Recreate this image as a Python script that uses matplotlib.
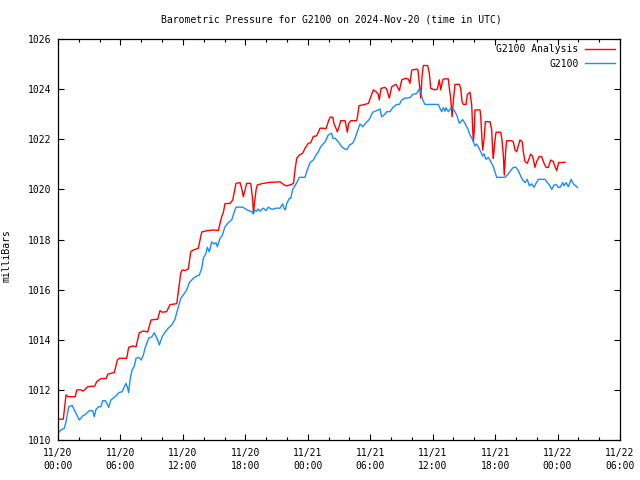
import matplotlib
matplotlib.use('Agg')
import matplotlib.pyplot as plt
import matplotlib.dates as mdates
import pandas as pd

# hours after 2024-11-20 00:00 UTC and pressure in millibars
analysis_hours = [0.0, 0.51, 0.77, 0.96, 1.66, 1.80, 2.24, 2.40, 2.88, 3.53, 3.72, 4.13, 4.61, 4.80,
                  5.41, 5.70, 5.89, 6.60, 6.79, 7.18, 7.50, 7.81, 8.20, 8.62, 8.94, 9.58, 9.80, 9.99,
                  10.44, 10.76, 11.41, 11.79, 11.91, 12.20, 12.52, 12.75, 13.00, 13.48, 13.81, 14.29,
                  14.92, 15.40, 15.73, 15.88, 16.05, 16.53, 16.79, 16.91, 17.10, 17.49, 17.65, 17.81,
                  17.97, 18.13, 18.52, 18.71, 18.77, 19.03, 19.15, 19.73, 20.37, 21.33, 21.81, 21.98,
                  22.46, 22.63, 22.77, 22.94, 23.19, 23.51, 23.73, 24.05, 24.28, 24.53, 24.86, 25.18,
                  25.49, 25.75, 25.97, 26.14, 26.40, 26.52, 26.84, 27.03, 27.16, 27.58, 27.67, 27.80,
                  27.93, 28.13, 28.70, 28.80, 28.92, 29.50, 29.82, 30.14, 30.30, 30.56, 30.78, 30.87,
                  31.04, 31.42, 31.58, 31.83, 32.07, 32.48, 32.80, 33.03, 33.34, 33.66, 33.82, 33.99,
                  34.47, 34.59, 34.72, 34.85, 34.98, 35.10, 35.52, 35.68, 35.81, 36.23, 36.45, 36.64,
                  36.77, 36.97, 37.09, 37.50, 37.60, 37.73, 37.86, 38.00, 38.15, 38.56, 38.70, 38.82,
                  38.95, 39.20, 39.33, 39.59, 39.75, 39.85, 39.91, 40.00, 40.07, 40.55, 40.62, 40.74,
                  40.81, 40.93, 41.06, 41.51, 41.67, 41.77, 41.83, 41.99, 42.09, 42.54, 42.66, 42.79,
                  42.88, 43.02, 43.11, 43.60, 43.75, 43.91, 44.08, 44.23, 44.39, 44.61, 44.71, 44.87,
                  45.09, 45.19, 45.42, 45.61, 45.83, 45.99, 46.24, 46.47, 46.70, 46.89, 47.11, 47.34,
                  47.59, 47.76, 47.92, 48.11, 48.72]
analysis_mbar = [1010.83, 1010.83, 1011.80, 1011.73, 1011.73, 1012.00, 1012.00, 1011.95, 1012.13,
                 1012.15, 1012.33, 1012.45, 1012.45, 1012.63, 1012.69, 1013.19, 1013.26, 1013.26,
                 1013.70, 1013.75, 1013.72, 1014.28, 1014.35, 1014.31, 1014.79, 1014.82, 1015.16,
                 1015.10, 1015.12, 1015.40, 1015.44, 1016.65, 1016.78, 1016.76, 1016.82, 1017.51,
                 1017.58, 1017.65, 1018.30, 1018.35, 1018.38, 1018.36, 1018.91, 1019.07, 1019.43,
                 1019.44, 1019.58, 1019.84, 1020.24, 1020.27, 1020.04, 1019.71, 1019.98, 1020.24,
                 1020.24, 1019.58, 1019.05, 1019.98, 1020.18, 1020.24, 1020.28, 1020.30, 1020.16,
                 1020.14, 1020.20, 1020.25, 1020.77, 1021.24, 1021.37, 1021.44, 1021.64, 1021.84,
                 1021.86, 1022.11, 1022.14, 1022.44, 1022.44, 1022.42, 1022.70, 1022.88, 1022.88,
                 1022.63, 1022.30, 1022.53, 1022.74, 1022.74, 1022.57, 1022.28, 1022.63, 1022.74,
                 1022.74, 1022.97, 1023.34, 1023.39, 1023.43, 1023.79, 1023.97, 1023.90, 1023.79,
                 1023.57, 1024.03, 1024.07, 1024.00, 1023.64, 1024.10, 1024.19, 1023.94, 1024.37,
                 1024.43, 1024.40, 1024.23, 1024.76, 1024.80, 1024.76, 1024.23, 1023.64, 1024.50,
                 1024.94, 1024.94, 1024.63, 1024.03, 1023.97, 1024.00, 1024.37, 1023.97, 1024.37,
                 1024.41, 1024.41, 1024.03, 1023.64, 1022.90, 1023.60, 1024.19, 1024.19, 1024.03,
                 1023.50, 1023.39, 1023.39, 1023.79, 1023.87, 1023.37, 1022.37, 1021.90, 1022.37,
                 1023.17, 1023.17, 1022.90, 1021.97, 1021.57, 1021.97, 1022.70, 1022.70, 1022.37,
                 1021.50, 1021.24, 1021.97, 1022.28, 1022.28, 1021.97, 1021.37, 1020.57, 1021.57,
                 1021.94, 1021.94, 1021.90, 1021.57, 1021.50, 1021.75, 1021.97, 1021.90, 1021.50,
                 1021.11, 1021.04, 1021.15, 1021.41, 1021.31, 1020.88, 1021.11, 1021.31, 1021.31,
                 1021.04, 1020.88, 1020.88, 1021.17, 1021.11, 1020.91, 1020.75, 1021.07, 1021.08]

station_hours = [0.0, 0.29, 0.61, 0.77, 1.03, 1.35, 1.57, 2.05, 2.37, 2.69, 3.01, 3.33, 3.49, 3.65,
                 3.91, 4.13, 4.30, 4.55, 4.68, 4.87, 5.09, 5.57, 5.89, 6.15, 6.53, 6.70, 6.79, 6.92,
                 7.11, 7.33, 7.50, 7.75, 7.98, 8.20, 8.39, 8.72, 9.03, 9.25, 9.58, 9.73, 9.99, 10.21,
                 10.57, 10.95, 11.24, 11.66, 11.79, 12.11, 12.37, 12.62, 13.00, 13.33, 13.58, 13.81,
                 13.96, 14.22, 14.35, 14.54, 14.77, 14.99, 15.18, 15.31, 15.57, 15.76, 16.05, 16.36,
                 16.69, 16.91, 17.10, 17.75, 18.06, 18.29, 18.52, 18.77, 18.93, 19.09, 19.22, 19.41,
                 19.57, 19.73, 19.99, 20.21, 20.56, 20.95, 21.33, 21.59, 21.71, 21.84, 21.98, 22.23,
                 22.36, 22.55, 22.77, 22.94, 23.19, 23.73, 23.90, 24.21, 24.53, 24.79, 25.01, 25.24,
                 25.66, 25.97, 26.30, 26.40, 26.62, 26.93, 27.26, 27.58, 27.80, 27.99, 28.32, 28.54,
                 28.76, 29.02, 29.28, 29.60, 29.91, 30.24, 30.78, 30.94, 31.10, 31.42, 31.58, 31.90,
                 32.16, 32.55, 32.80, 33.03, 33.34, 33.82, 34.08, 34.47, 34.72, 34.85, 35.04, 35.26,
                 36.54, 36.71, 36.87, 37.02, 37.19, 37.28, 37.50, 37.73, 37.98, 38.31, 38.56, 38.62,
                 38.88, 39.10, 39.42, 39.59, 39.85, 40.07, 40.23, 40.38, 40.62, 40.81, 40.93, 41.13,
                 41.35, 41.67, 41.83, 42.15, 42.95, 43.17, 43.50, 43.75, 44.01, 44.23, 44.46, 44.65,
                 44.87, 45.09, 45.29, 45.52, 45.74, 45.93, 46.15, 46.80, 46.96, 47.21, 47.44, 47.66,
                 47.92, 48.07, 48.24, 48.50, 48.62, 48.81, 49.04, 49.30, 49.52, 49.91]
station_mbar = [1010.27, 1010.40, 1010.47, 1010.73, 1011.33, 1011.38, 1011.20, 1010.80, 1010.96,
                1011.04, 1011.17, 1011.17, 1010.93, 1011.22, 1011.33, 1011.33, 1011.57, 1011.57,
                1011.48, 1011.30, 1011.60, 1011.76, 1011.90, 1011.92, 1012.26, 1012.06, 1011.89,
                1012.39, 1012.79, 1012.95, 1013.26, 1013.30, 1013.19, 1013.39, 1013.70, 1014.06,
                1014.12, 1014.28, 1013.99, 1013.79, 1014.10, 1014.26, 1014.45, 1014.60, 1014.82,
                1015.45, 1015.65, 1015.83, 1015.99, 1016.28, 1016.45, 1016.54, 1016.58, 1016.85,
                1017.25, 1017.45, 1017.69, 1017.51, 1017.91, 1017.82, 1017.87, 1017.71, 1018.05,
                1018.14, 1018.51, 1018.67, 1018.78, 1019.07, 1019.29, 1019.29, 1019.21, 1019.15,
                1019.13, 1019.02, 1019.18, 1019.13, 1019.22, 1019.13, 1019.20, 1019.25, 1019.15,
                1019.29, 1019.20, 1019.25, 1019.25, 1019.42, 1019.25, 1019.18, 1019.44, 1019.64,
                1019.64, 1020.00, 1020.14, 1020.27, 1020.48, 1020.48, 1020.71, 1021.07, 1021.17,
                1021.37, 1021.50, 1021.70, 1021.90, 1022.17, 1022.24, 1022.04, 1022.04, 1021.90,
                1021.70, 1021.60, 1021.60, 1021.77, 1021.84, 1022.04, 1022.30, 1022.61, 1022.50,
                1022.66, 1022.79, 1023.08, 1023.17, 1023.21, 1022.90, 1023.00, 1023.10, 1023.10,
                1023.26, 1023.39, 1023.39, 1023.57, 1023.64, 1023.66, 1023.79, 1023.83, 1024.01,
                1023.90, 1023.57, 1023.39, 1023.39, 1023.23, 1023.10, 1023.26, 1023.12, 1023.26,
                1023.10, 1023.24, 1023.21, 1022.97, 1022.64, 1022.66, 1022.79, 1022.64, 1022.37,
                1022.17, 1021.97, 1021.73, 1021.81, 1021.70, 1021.50, 1021.33, 1021.42, 1021.20,
                1021.28, 1021.04, 1020.91, 1020.48, 1020.48, 1020.57, 1020.75, 1020.88, 1020.88,
                1020.75, 1020.53, 1020.37, 1020.27, 1020.40, 1020.14, 1020.22, 1020.08, 1020.24,
                1020.40, 1020.40, 1020.31, 1020.18, 1020.00, 1020.18, 1020.18, 1020.08, 1020.08,
                1020.27, 1020.14, 1020.27, 1020.11, 1020.40, 1020.22, 1020.08]

series_labels = ['G2100 Analysis', 'G2100']
y_ticks = [1010, 1012, 1014, 1016, 1018, 1020, 1022, 1024, 1026]

start = pd.Timestamp('2024-11-20 00:00')
end = pd.Timestamp('2024-11-22 06:00')
analysis_t = start + pd.to_timedelta(analysis_hours, unit='h')
station_t = start + pd.to_timedelta(station_hours, unit='h')

plt.rcParams['font.family'] = 'DejaVu Sans Mono'
plt.rcParams['font.size'] = 7

fig = plt.figure(figsize=(6.4, 4.8), dpi=100)
ax = fig.add_axes([58 / 640, 40 / 480, 562 / 640, 401 / 480])

ax.plot(analysis_t, analysis_mbar, color='#ff0000', lw=1.0, label=series_labels[0])
ax.plot(station_t, station_mbar, color='#1a8cff', lw=1.0, label=series_labels[1])

ax.set_xlim(start, end)
ax.set_ylim(y_ticks[0], y_ticks[-1])
ax.set_yticks(y_ticks)

ax.xaxis.set_major_locator(mdates.HourLocator(byhour=range(0, 24, 6)))
ax.xaxis.set_minor_locator(mdates.HourLocator(byhour=range(0, 24, 2)))
ax.xaxis.set_major_formatter(mdates.DateFormatter('%m/%d\n%H:%M'))

ax.tick_params(which='both', direction='in', top=True, right=True, color='black', width=0.8)
ax.tick_params(which='major', length=4.5, pad=6)
ax.tick_params(which='minor', length=2.5)
ax.tick_params(axis='y', pad=5)
for s in ax.spines.values():
    s.set_linewidth(0.9)

ax.set_ylabel('milliBars')
ax.yaxis.set_label_coords(-0.082, 0.46)
fig.text(331 / 640, 1 - 19 / 480, 'Barometric Pressure for G2100 on 2024-Nov-20 (time in UTC)',
         ha='center', va='center')

ax.legend(loc='upper right', frameon=False, markerfirst=False, handlelength=3.0,
          handletextpad=0.7, labelspacing=0.45, borderaxespad=0.3, borderpad=0.25)

fig.canvas.draw()
for lbl in ax.get_xticklabels():
    lbl.set_linespacing(1.35)

fig.savefig('out.png', dpi=100)
